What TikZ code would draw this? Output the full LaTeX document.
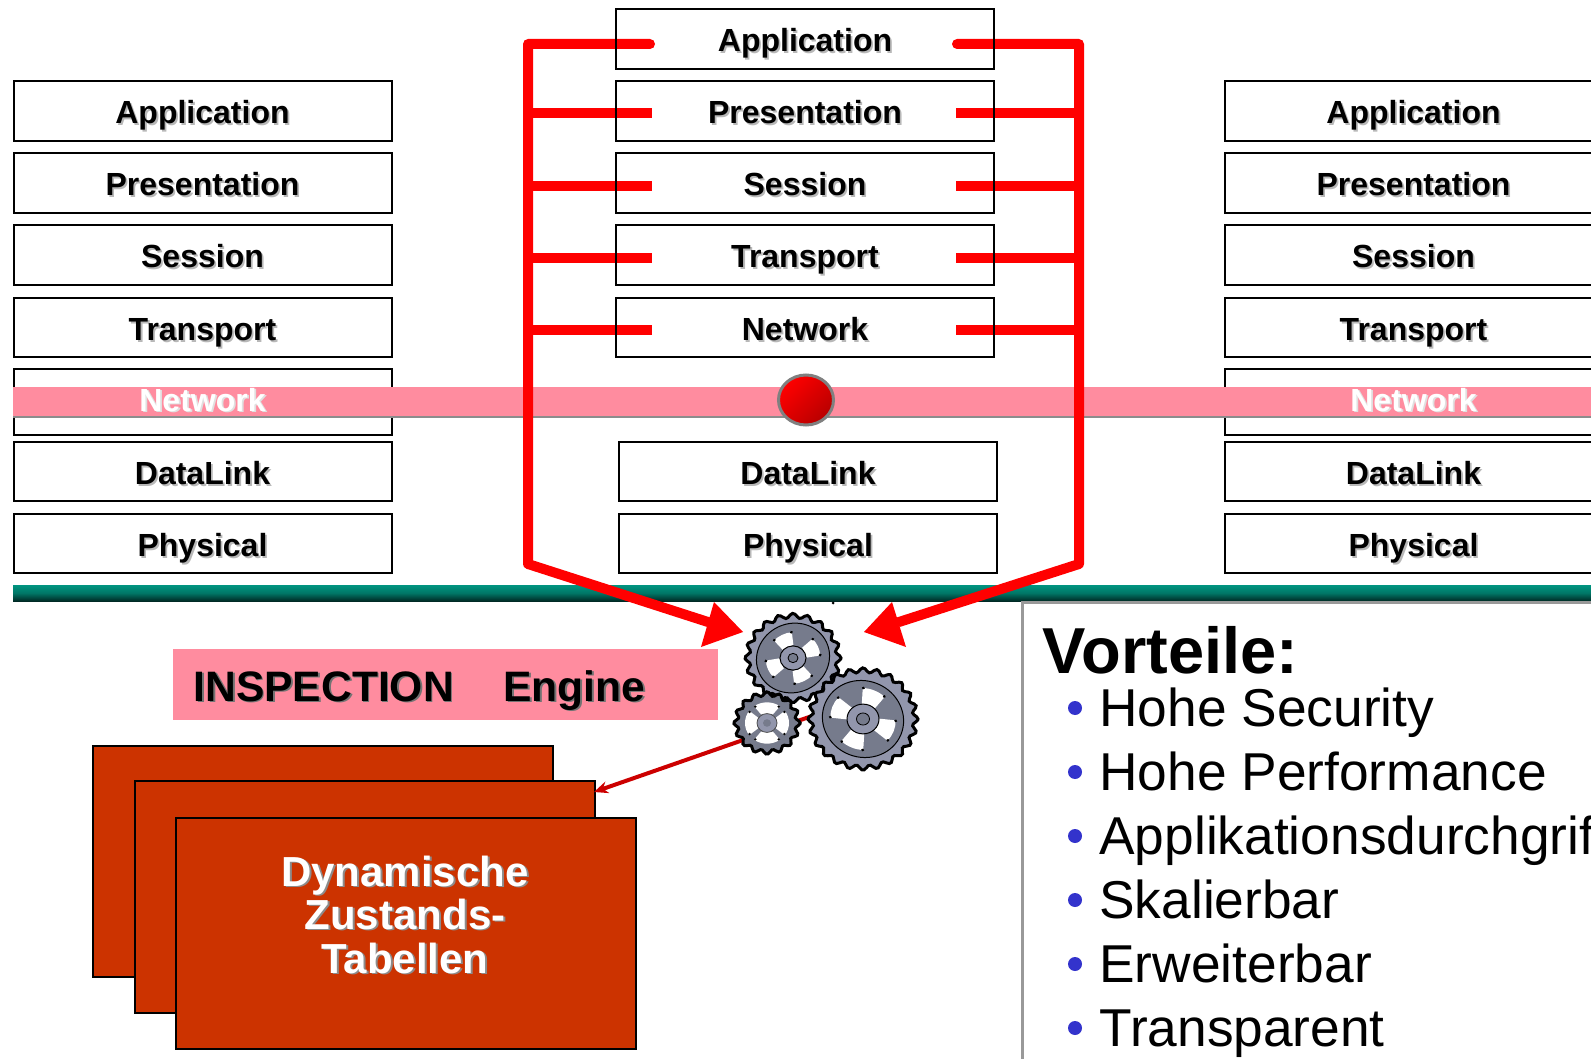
\documentclass[tikz,border=0pt]{standalone}
\usepackage{fontspec}
\setmainfont{Liberation Sans}
\usetikzlibrary{arrows.meta,shadings}
\definecolor{bandpink}{HTML}{FF8C9F}
\definecolor{tablered}{HTML}{CC3300}
\definecolor{teal1}{HTML}{009480}
\definecolor{teal2}{HTML}{002A25}
\definecolor{gearlight}{HTML}{9296AC}
\definecolor{geardark}{HTML}{767B8C}
\definecolor{bulletblue}{HTML}{3333CC}
\definecolor{panelgray}{HTML}{999999}
\definecolor{shadowgray}{HTML}{B8B8B8}
\newcommand{\shadowed}[2][shadowgray]{\leavevmode\rlap{\kern0.9pt\raisebox{-0.9pt}{\textcolor{#1}{#2}}}#2}
\tikzset{
  layerbox/.style={draw=black,line width=1pt,minimum width=189pt,minimum height=29.7pt,inner sep=0pt,
    font=\fontsize{16}{16}\selectfont\bfseries,text height=13pt,text depth=0pt,align=center},
  layerlabel/.style={inner sep=0pt,font=\fontsize{16}{16}\selectfont\bfseries,text height=13pt,text depth=0pt},
  redbus/.style={draw=red,line width=5pt,line join=round,line cap=round},
  redstub/.style={draw=red,line width=5pt},
  redhead/.style={fill=red},
  bignote/.style={anchor=base west,inner sep=0pt,font=\fontsize{26.65}{26.65}\selectfont},
  bulletdot/.style={circle,fill=bulletblue,minimum size=7pt,inner sep=0pt},
  tablebox/.style={draw=black,fill=tablered,line width=1.25pt,inner sep=0pt},
  tablelabel/.style={inner sep=0pt,text=white,font=\fontsize{21}{21}\selectfont\bfseries,text height=15pt,text depth=0pt},
}
% R, teeth, amplitude, ring, window r1, window r2, hub, hub hole, rotation
\newcommand{\drawgear}[9]{%
  \fill[fill=gearlight,draw=black,line width=1.5pt]
    plot[smooth cycle,domain=0:359,samples=#2*6] (\x:{#1+#3*cos(#2*\x)});
  \begin{scope}[rotate=#9]
    \fill[geardark,draw=black,line width=0.5pt] (0,0) circle[radius=#4];
    \foreach \a in {0,90,180,270}{
      \fill[white] (\a-25:#5) -- (\a-21:#6) arc[start angle=\a-21,end angle=\a+21,radius=#6] -- (\a+25:#5) -- cycle;
      \fill[black] (\a-20:#6) circle[radius=1.6] (\a+20:#6) circle[radius=1.6];
    }
  \end{scope}
  \fill[gearlight,draw=black,line width=0.5pt] (0,0) circle[radius=#7];
  \fill[geardark,draw=black,line width=0.4pt] (0,0) circle[radius=#8];
}
\begin{document}
\begin{tikzpicture}[x=0.5pt,y=-0.5pt]
\useasboundingbox (0,0) rectangle (1591,1059);
\clip (0,0) rectangle (1591,1059);
% anchors for the red connectors
\coordinate (LT) at (528,44);
\coordinate (RT) at (1079,44);
\coordinate (LB) at (528,564);
\coordinate (RB) at (1079,564);
\coordinate (LA) at (743,632);
\coordinate (RA) at (864,632);
\coordinate (LH) at (708,622);
\coordinate (RH) at (899,622);
\coordinate (LE) at (650,44);
\coordinate (RE) at (957,44);
% left and right stacks
\foreach \nm/\txt/\yy in {a/Application/111,b/Presentation/183,c/Session/255,d/Transport/327.5,f/DataLink/471.5,g/Physical/543.5}{
  \node[layerbox] (L\nm) at (202.5,\yy) {\shadowed{\txt}};
  \node[layerbox] (R\nm) at (1413.5,\yy) {\shadowed{\txt}};
}
\node[layerbox,minimum height=32.5pt] (Le) at (202.5,402) {};
\node[layerbox,minimum height=32.5pt] (Re) at (1413.5,402) {};
% stub ends of the centre stack
\foreach \nm/\yy in {a/44,b/113,c/186,d/258.5,e/330}{
  \coordinate (BL\nm) at (528,\yy);
  \coordinate (BR\nm) at (1079,\yy);
  \coordinate (SL\nm) at (652,\yy);
  \coordinate (SR\nm) at (956,\yy);
}
% band
\fill[black!45] (13,416) rectangle (1591,418);
\fill[bandpink] (13,387) rectangle (1591,416);
\node[layerlabel,text=white] (Ln) at (202.5,398) {\shadowed[black!12]{Network}};
\node[layerlabel,text=white] (Rn) at (1413.5,398) {\shadowed[black!12]{Network}};
% bottom bar
\shade[top color=teal1,bottom color=teal2,middle color=teal1!80!black] (13,585) rectangle (1591,601);
\fill[black] (833,603) circle[radius=1.5];
% red bus
\foreach \nm in {b,c,d,e}{
  \draw[redstub] (BL\nm) -- (SL\nm);
  \draw[redstub] (SR\nm) -- (BR\nm);
}
\draw[redbus] (LE) -- (LT) -- (LB) -- (LH);
\draw[redbus] (RE) -- (RT) -- (RB) -- (RH);
% centre stack boxes
\foreach \nm/\txt/\yy in {a/Application/39,b/Presentation/111,c/Session/183,d/Transport/255,e/Network/327.5}{
  \node[layerbox] (C\nm) at (805,\yy) {\shadowed{\txt}};
}
\node[layerbox] (Cf) at (808,471.5) {\shadowed{DataLink}};
\node[layerbox] (Cg) at (808,543.5) {\shadowed{Physical}};
% red ball
\shade[top color=red,bottom color=red!72!black,shading angle=45,draw=black!50,line width=1.5pt] (806,400) ellipse[x radius=27.5,y radius=25];
% inspection
\node[fill=bandpink,minimum width=272.5pt,minimum height=35.5pt,inner sep=0pt] (insp) at (445.5,684.5) {};
\node[anchor=base west,inner sep=0pt,font=\fontsize{21.3}{21.3}\selectfont\bfseries] (ilabel) at (193,701)
  {\shadowed[black!55]{INSPECTION}\hspace{24.8pt}\shadowed[black!55]{Engine}};
% arrow heads
\fill[redhead] (714,602) -- (LA) -- (701,647) -- cycle;
\fill[redhead] (892,602) -- (RA) -- (906,647) -- cycle;
% tables
\node[tablebox,minimum width=230pt,minimum height=115.5pt] (t1) at (323,861.5) {};
\node[tablebox,minimum width=230pt,minimum height=116pt] (t2) at (365,897) {};
\node[tablebox,minimum width=230pt,minimum height=115.5pt] (t3) at (406,933.5) {};
\node[tablelabel] (t3a) at (405,871) {\shadowed[black!45]{Dynamische}};
\node[tablelabel] (t3b) at (405,914) {\shadowed[black!45]{Zustands-}};
\node[tablelabel] (t3c) at (405,958) {\shadowed[black!45]{Tabellen}};
% engine arrow
\coordinate (gearout) at (812,716);
\coordinate (tabletip) at (594,792);
\draw[draw=red!80!black,line width=2pt,-{Stealth[length=7pt,width=6pt]}] (gearout) -- (tabletip);
% gears
\begin{scope}[shift={(793,658)},y=0.465pt]
  \drawgear{45.5}{20}{2.5}{37}{14}{27.5}{13}{5}{25}
\end{scope}
\begin{scope}[shift={(863,719)},y=0.465pt]
  \drawgear{52.5}{24}{2.5}{41}{16}{33}{16}{6.5}{-22}
\end{scope}
\begin{scope}[shift={(767,723)},y=0.47pt]
  \fill[fill=geardark,draw=black,line width=1.5pt]
    plot[smooth cycle,domain=0:359,samples=96] (\x:{31+2.2*cos(16*\x)});
  \foreach \a in {0,90,180,270}{
    \fill[white] (\a-33:11) -- (\a-36:22) arc[start angle=\a-36,end angle=\a+36,radius=22] -- (\a+33:11) -- cycle;
    \fill[black] (\a-34:21) circle[radius=1.4] (\a+34:21) circle[radius=1.4];
  }
  \fill[gearlight,draw=black!70,line width=0.4pt] (0,0) circle[radius=10];
  \fill[geardark] (0,0) circle[radius=4];
\end{scope}
% panel
\coordinate (P1) at (1022,1059);
\coordinate (P2) at (1022,602);
\coordinate (P3) at (1591,602);
\draw[panelgray,line width=1.5pt] (P1) -- (P2) -- (P3);
\node[anchor=base west,inner sep=0pt,font=\fontsize{32.5}{32.5}\selectfont\bfseries] (vort) at (1042.5,673) {Vorteile:};
\foreach \i/\txt/\yb in {1/Hohe Security/726,2/Hohe Performance/790,3/Applikationsdurchgriff/854,4/Skalierbar/918,5/Erweiterbar/982,6/Transparent/1046}{
  \node[bulletdot] (B\i) at (1075,\yb-18) {};
  \node[bignote] (N\i) at (1099,\yb) {\txt};
}
\end{tikzpicture}
\end{document}
